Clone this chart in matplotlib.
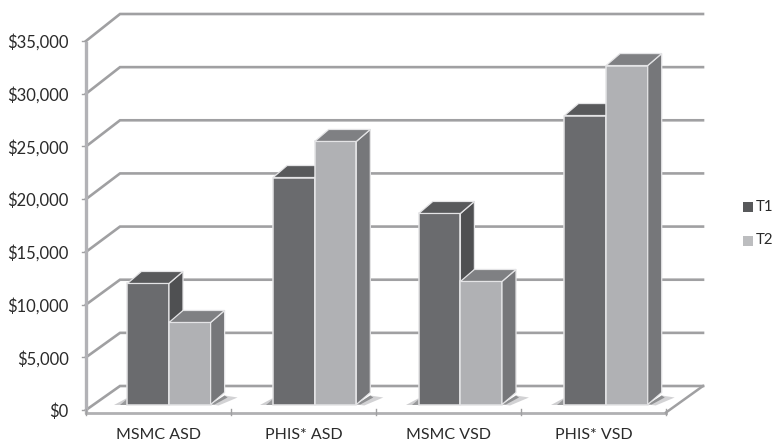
import matplotlib
matplotlib.use('Agg')
import matplotlib.pyplot as plt
import numpy as np
from matplotlib.patches import Polygon
from matplotlib.transforms import Affine2D

plt.rcParams['font.family'] = ['Lato', 'DejaVu Sans']

categories = ['MSMC ASD', 'PHIS* ASD', 'MSMC VSD', 'PHIS* VSD']
t1 = [11480, 21530, 18120, 27410]
t2 = [7780, 24950, 11670, 32150]
ticks = [0, 5000, 10000, 15000, 20000, 25000, 30000, 35000]

W, H = 774, 441
fig = plt.figure(figsize=(W / 100, H / 100), dpi=100)
ax = fig.add_axes([86 / W, (H - 410) / H, (666 - 86) / W, 369 / H])
n = len(categories)
ax.set_xlim(0, n)
ax.set_ylim(0, 35000)
ax.patch.set_visible(False)
for s in ax.spines.values():
    s.set_visible(False)


def shift(dx, dy):
    # offset in pixels on top of the data scale
    return ax.transData + Affine2D().translate(dx, dy)


grid = '#a0a0a2'
back_dx = 34

# back wall and left wall lines
for v in ticks:
    back_dy = 24 + 3 * v / 35000
    xa, ya = ax.transData.transform((0, v))
    xb, _ = ax.transData.transform((n, v))
    ax.plot([xa, xa + back_dx, xb + 37], [ya, ya + back_dy, ya + back_dy], color=grid, lw=1.9,
            transform=None, clip_on=False, zorder=1, solid_joinstyle='miter')
    ax.plot([xa - 4, xa], [ya, ya], color=grid, lw=1, transform=None, clip_on=False, zorder=2)

# left wall and floor
ax.plot([0, 0], [0, 35000], color='#b2b2b6', lw=2.4, clip_on=False, zorder=2, transform=shift(0, -2))
ax.plot([0, n], [0, 0], color='#b0b0b2', lw=2, clip_on=False, zorder=2, transform=shift(0, -2.5))
x0, y0 = ax.transData.transform((n, 0))
ax.plot([x0, x0 + 37], [y0 - 2.5, y0 + 24], color=grid, lw=1.8, transform=None,
        clip_on=False, zorder=2)

# category ticks on the floor edge
for i in range(n + 1):
    px, py = ax.transData.transform((i, 0))
    ax.plot([px, px], [py + 1, py - 5], color=grid, lw=1, transform=None, clip_on=False, zorder=2)

bar_w = 0.287
dep_x, dep_y = 14, 12
front_dx, front_dy = 10.5, 5.5
cols = {'t1': ('#6a6b6e', '#58595b', '#4f5052'), 't2': ('#b0b1b4', '#7f8083', '#76777a')}


def draw_bar(x, v, key, z, nudge):
    front, top, side = cols[key]
    tr = shift(front_dx + nudge, front_dy)
    ax.bar(x, v, width=bar_w, align='edge', color=front, edgecolor='#e4e4e6', lw=1.1,
           transform=tr, clip_on=False, zorder=z)
    x1, y1 = tr.transform((x, 0))
    x2, y2 = tr.transform((x + bar_w, v))
    xl = tr.transform((x, v))[0]
    # shadow on the floor, right of the bar
    if key == 't2':
        ax.add_patch(Polygon([(x2, y1), (x2 + dep_x, y1 + 9), (x2 + 27, y1 + 7), (x2 + 8, y1 - 1)],
                             closed=True, fc='#d2d2d4', ec='none', transform=None, clip_on=False, zorder=2))
        ax.add_patch(Polygon([(x2, y1), (x2 + dep_x, y1 + 9), (x2 + 17, y1 + 7), (x2 + 4, y1)],
                             closed=True, fc='#8f9092', ec='none', transform=None, clip_on=False, zorder=2))
    else:
        ax.add_patch(Polygon([(x1 - 13, y1), (x1, y1), (x1, y1 + 7)], closed=True,
                             fc='#cfcfd1', ec='none', transform=None, clip_on=False, zorder=2))
        ax.add_patch(Polygon([(x1 - 7, y1), (x1, y1), (x1, y1 + 6)], closed=True,
                             fc='#98999b', ec='none', transform=None, clip_on=False, zorder=2))
    ax.add_patch(Polygon([(x2, y1), (x2 + dep_x, y1 + dep_y), (x2 + dep_x, y2 + dep_y), (x2, y2)],
                         closed=True, fc=side, ec='#e4e4e6', lw=0.9, transform=None,
                         clip_on=False, zorder=z))
    ax.add_patch(Polygon([(xl, y2), (x2, y2), (x2 + dep_x, y2 + dep_y), (xl + dep_x, y2 + dep_y)],
                         closed=True, fc=top, ec='#e4e4e6', lw=0.9, transform=None,
                         clip_on=False, zorder=z))


for i in range(n):
    left = i + 0.5 - bar_w
    draw_bar(left, t1[i], 't1', 3 + i * 2, i * 0.7)
    draw_bar(left + bar_w, t2[i], 't2', 4 + i * 2, i * 0.7)

ax.tick_params(length=0)
ax.set_yticks(ticks)
ax.set_yticklabels(['${:,}'.format(v) for v in ticks], fontsize=11.9, color='#2a2a2a')
ax.tick_params(axis='y', pad=12.5)
ax.set_xticks(np.arange(n) + 0.5)
ax.set_xticklabels(categories, fontsize=11.5, color='#2a2a2a')
ax.tick_params(axis='x', pad=13)

# legend
fig.patches.append(plt.Rectangle((743 / W, 1 - 212 / H), 9.5 / W, 10 / H, transform=fig.transFigure, fc='#58595b', ec='none'))
fig.patches.append(plt.Rectangle((743 / W, 1 - 246 / H), 9.5 / W, 10 / H, transform=fig.transFigure, fc='#bcbdbf', ec='none'))
fig.text(756 / W, 1 - 207 / H, 'T1', fontsize=10.8, color='#2a2a2a', va='center')
fig.text(756 / W, 1 - 240 / H, 'T2', fontsize=10.8, color='#2a2a2a', va='center')

fig.savefig('out.png', dpi=100)
